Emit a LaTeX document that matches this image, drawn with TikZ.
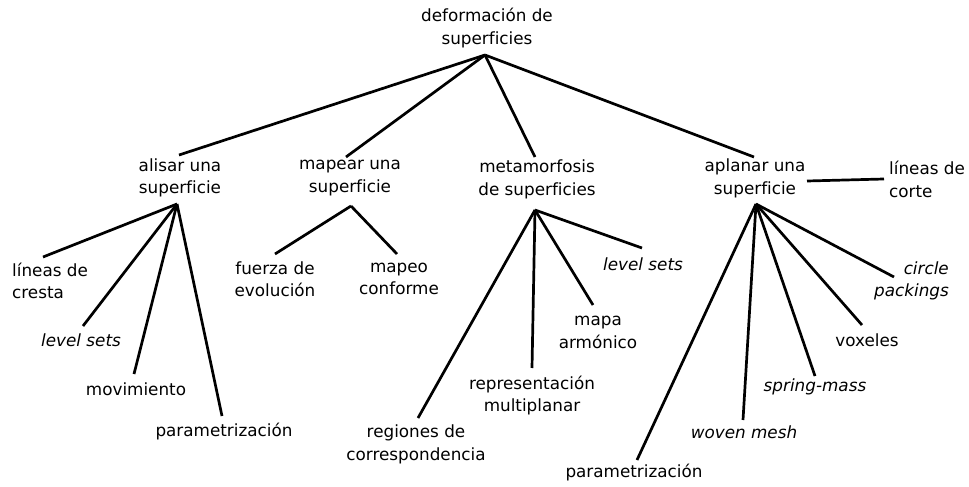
\documentclass[tikz,border=0pt]{standalone}
\usepackage{fontspec}
\setmainfont{DejaVu Sans}[Ligatures=NoCommon]
\begin{document}
\begin{tikzpicture}[x=1pt,y=-1pt,
  lbl/.style={inner sep=0pt, align=center, font=\fontsize{16.8}{22.5}\selectfont},
  itl/.style={lbl, font=\fontsize{16.8}{22.5}\selectfont\itshape},
  edge/.style={line width=2.7pt}]
\useasboundingbox[fill=white] (0,0) rectangle (969,487);
% nodes
\node[lbl] (root) at (487,28) {deformación de\\superficies};
\node[lbl] (alisar) at (180,178) {alisar una\\superficie};
\node[lbl] (mapear) at (350,178) {mapear una\\superficie};
\node[lbl] (meta) at (537,179.5) {metamorfosis\\de superficies};
\node[lbl] (aplanar) at (755,178.5) {aplanar una\\superficie};
\node[lbl,anchor=west,align=left] (corte) at (889,179.5) {líneas de\\corte};
\node[lbl,anchor=west,align=left] (cresta) at (12,281) {líneas de\\cresta};
\node[itl] (ls1) at (81,340) {level sets};
\node[lbl] (mov) at (136,389) {movimiento};
\node[lbl] (par1) at (224,432) {parametrización};
\node[lbl] (fuerza) at (275,279) {fuerza de\\evolución};
\node[lbl] (mapeo) at (399,279) {mapeo\\conforme};
\node[lbl] (regiones) at (416,444.5) {regiones de\\correspondencia};
\node[lbl] (rep) at (532,395.5) {representación\\multiplanar};
\node[lbl] (mapa) at (598,332.5) {mapa\\armónico};
\node[itl] (ls2) at (643,264) {level sets};
\node[itl,anchor=east,align=right] (circle) at (949,281) {circle\\packings};
\node[lbl] (vox) at (867,340) {voxeles};
\node[itl] (spring) at (815,387) {spring-mass};
\node[itl] (woven) at (744,432) {woven mesh};
\node[lbl] (par2) at (634,473) {parametrización};
% connector end points
\coordinate (rootB) at (485,55);
\coordinate (alisarT) at (179,155);
\coordinate (mapearT) at (346,157);
\coordinate (metaT) at (535,157);
\coordinate (aplanarT) at (754,157);
\coordinate (alisarB) at (177,204);
\coordinate (mapearB) at (351,206);
\coordinate (metaB) at (535,210);
\coordinate (aplanarB) at (756,204);
\coordinate (aplanarR) at (807,181);
\coordinate (corteL) at (884,179);
\coordinate (crestaT) at (43,257);
\coordinate (ls1T) at (83,326);
\coordinate (movT) at (134,374);
\coordinate (par1T) at (222,416);
\coordinate (fuerzaT) at (275,254);
\coordinate (mapeoT) at (397,254);
\coordinate (regionesT) at (418,418);
\coordinate (repT) at (532,368);
\coordinate (mapaT) at (593,305);
\coordinate (ls2T) at (642,248);
\coordinate (circleT) at (894,277);
\coordinate (voxT) at (862,325);
\coordinate (springT) at (815,376);
\coordinate (wovenT) at (743,420);
\coordinate (par2T) at (637,460);
% connectors
\foreach \a/\b in {rootB/alisarT, rootB/mapearT, rootB/metaT, rootB/aplanarT,
  alisarB/crestaT, alisarB/ls1T, alisarB/movT, alisarB/par1T,
  mapearB/fuerzaT, mapearB/mapeoT,
  metaB/regionesT, metaB/repT, metaB/mapaT, metaB/ls2T,
  aplanarB/par2T, aplanarB/wovenT, aplanarB/springT, aplanarB/voxT, aplanarB/circleT,
  aplanarR/corteL}
  \draw[edge] (\a) -- (\b);
\end{tikzpicture}
\end{document}
